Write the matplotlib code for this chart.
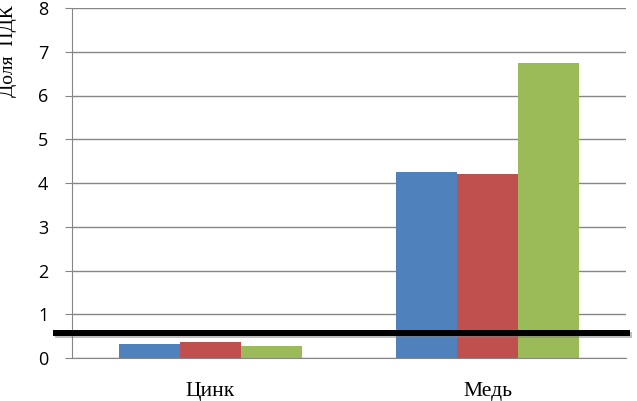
import numpy as np
import matplotlib
matplotlib.use('Agg')
import matplotlib.pyplot as plt
import matplotlib.patheffects as pe
import matplotlib.transforms as mtransforms

# Данные
categories = ['Цинк', 'Медь']
series_1 = [0.32, 4.26]
series_2 = [0.36, 4.21]
series_3 = [0.27, 6.75]
pdk_level = 0.58

colors = ['#4F81BD', '#C0504D', '#9BBB59']

fig = plt.figure(figsize=(6.37, 4.01), dpi=100)
ax = fig.add_axes([72 / 637, 1 - 358 / 401, 554 / 637, 350 / 401])

x = np.arange(len(categories))
width = 0.221
for i, (vals, c) in enumerate(zip([series_1, series_2, series_3], colors)):
    ax.bar(x + (i - 1) * width, vals, width, color=c, zorder=2)

ax.set_xlim(-0.5, 1.5)
ax.set_ylim(0, 8)
ax.set_yticks(range(0, 9))
ax.grid(axis='y', color='#868686', linewidth=1.0, zorder=0)
ax.set_axisbelow(True)

for s in ['top', 'right']:
    ax.spines[s].set_visible(False)
ax.spines['left'].set_color('#868686')
ax.spines['bottom'].set_color('#868686')

ax.tick_params(axis='y', length=5, color='#868686', pad=12, labelsize=13)
ax.tick_params(axis='x', length=0, pad=17)
ax.set_xticks(x)
ax.set_xticklabels(categories, family='Liberation Serif', fontsize=15.5)
for lbl in ax.get_yticklabels():
    lbl.set_family('Open Sans')

# Линия ПДК
trans = mtransforms.blended_transform_factory(ax.transAxes, ax.transData)
ax.plot([-0.034, 1.007], [pdk_level, pdk_level], color='black', linewidth=4.3,
        transform=trans, clip_on=False, zorder=5, solid_capstyle='butt',
        path_effects=[pe.SimpleLineShadow(offset=(1.5, -2), shadow_color='gray', alpha=0.5),
                      pe.Normal()])

fig.text(9 / 637, 1 - 97 / 401, 'Доля  ПДК', rotation=90, ha='center', va='bottom',
         family='Liberation Serif', fontsize=14)

fig.savefig('out.png', dpi=100)
